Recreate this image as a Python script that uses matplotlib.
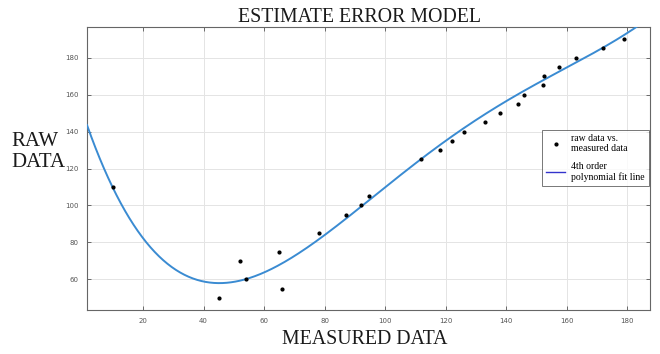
import numpy as np
import matplotlib
matplotlib.use("Agg")
import matplotlib.pyplot as plt
from matplotlib.lines import Line2D

# Raw data points (measured vs raw)
raw_x = [10, 45, 52, 54, 65, 66, 78, 87, 92, 94.5, 112, 118, 122, 126, 133,
         138, 144, 146, 152, 152.5, 157.5, 163, 172, 179]
raw_y = [110, 50, 70, 60, 75, 55, 85, 95, 100, 105, 125, 130, 135, 140, 145,
         150, 155, 160, 165, 170, 175, 180, 185, 190]

# Points (used to fit the 4th order polynomial)
curve_x = [1.5, 10, 21.5, 45.5, 60, 80, 94.4, 120.8, 140, 160, 180, 182]
curve_y = [143, 110, 80, 58, 63, 83, 104, 136.6, 155, 175.3, 192, 196.5]

x_ticks = [20, 40, 60, 80, 100, 120, 140, 160, 180]
y_ticks = [60, 80, 100, 120, 140, 160, 180]

coef = np.polyfit(curve_x, curve_y, 4)
xf = np.linspace(1.5, 187.5, 400)
yf = np.polyval(coef, xf)

serif = ["Liberation Serif", "DejaVu Serif"]
fig = plt.figure(figsize=(6.6, 3.54), dpi=100)
ax = fig.add_axes([87/660, 1-310/354, (650-87)/660, (310-27)/354])

ax.plot(xf, yf, color="#3a8bd2", lw=1.4, zorder=3)
ax.plot(raw_x, raw_y, ls="none", marker="o", ms=2.0, color="black", zorder=4)

ax.set_xlim(1.5, 187.5)
ax.set_ylim(43.5, 196.5)
ax.set_xticks(x_ticks)
ax.set_yticks(y_ticks)
ax.grid(True, color="#e4e4e4", lw=0.7)
ax.set_axisbelow(True)
ax.tick_params(direction="in", length=3, width=0.6, colors="#555555",
               labelsize=5, top=True, right=True, pad=6)
for s in ax.spines.values():
    s.set_color("#666666")
    s.set_linewidth(0.8)

fig.text(360/660, 1-18/354, "ESTIMATE ERROR MODEL", ha="center", va="center",
         family=serif, fontsize=14.3, color="#1a1a1a")
fig.text(365/660, 1-340/354, "MEASURED DATA", ha="center", va="center",
         family=serif, fontsize=14.3, color="#1a1a1a")
fig.text(11/660, 1-152/354, "RAW\nDATA", ha="left", va="center",
         family=serif, fontsize=15, color="#1a1a1a", linespacing=1.15)

handles = [Line2D([], [], ls="none", marker="o", ms=2.0, color="black"),
           Line2D([], [], color="#3333cc", lw=1.0)]
labels = ["raw data vs.\nmeasured data", "4th order\npolynomial fit line"]
leg = ax.legend(handles, labels, loc="upper left",
                bbox_to_anchor=((542-87)/563, 1-(130-27)/283),
                prop={"family": serif, "size": 7}, frameon=True, fancybox=False,
                edgecolor="#555555", handlelength=2.0, handletextpad=0.6,
                borderpad=0.4, labelspacing=0.9, borderaxespad=0)
leg.get_frame().set_linewidth(0.7)

fig.savefig("out.png", dpi=100)
